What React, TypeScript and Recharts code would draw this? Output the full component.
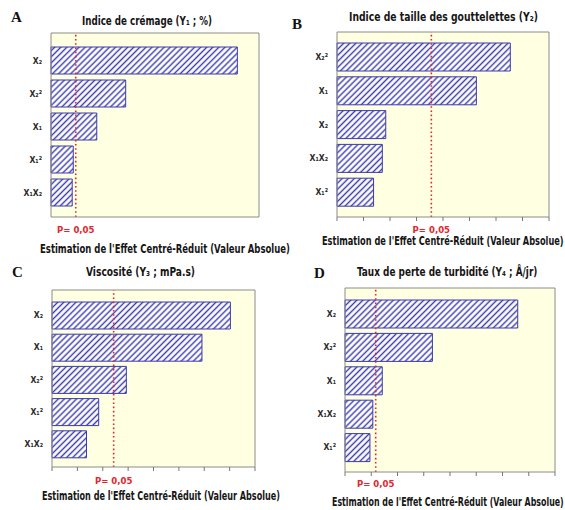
import { BarChart, Bar, XAxis, YAxis, CartesianGrid, ReferenceLine } from "recharts";

// Pareto charts of standardized effects, four responses
const termsA = ["X₂", "X₂²", "X₁", "X₁²", "X₁X₂"];
const effectsA = [8.96, 3.59, 2.2, 1.07, 1.02];
const critA = 1.19;

const termsB = ["X₂²", "X₁", "X₂", "X₁X₂", "X₁²"];
const effectsB = [6.54, 5.26, 1.84, 1.71, 1.38];
const critB = 3.56;

const termsC = ["X₂", "X₁", "X₂²", "X₁²", "X₁X₂"];
const effectsC = [7.03, 5.91, 2.93, 1.84, 1.36];
const critC = 2.43;

const termsD = ["X₂", "X₂²", "X₁", "X₁X₂", "X₁²"];
const effectsD = [6.58, 3.33, 1.42, 1.06, 0.95];
const critD = 1.17;

const gridTicks = [0, 1, 2, 3, 4, 5, 6, 7, 8];
const pLabel = "P= 0,05";
const xTitle = "Estimation de l'Effet Centré-Réduit (Valeur Absolue)";
const titleA = "Indice de crémage (Y₁ ; %)";
const titleB = "Indice de taille des gouttelettes (Y₂)";
const titleC = "Viscosité (Y₃ ; mPa.s)";
const titleD = "Taux de perte de turbidité (Y₄ ; Å/jr)";

const FONT = '"Liberation Sans Narrow", "DejaVu Sans Condensed", "Liberation Sans", sans-serif';
const BLUE = "#3a3aae";
const RED = "#e2262c";
const FRAME = "#8c8c8c";

type Box = { x: number; y: number; w: number; h: number };

type PanelProps = {
  id: string;
  terms: string[];
  effects: number[];
  crit: number;
  xMax: number;
  showTicks: boolean;
  box: Box;
  padTop: number;
  padBottom: number;
  barSize: number;
  pOffset: number;
};

function EffectPanel({ id, terms, effects, crit, xMax, showTicks, box, padTop, padBottom, barSize, pOffset }: PanelProps) {
  const data = terms.map((term, i) => ({ term, effect: effects[i] }));
  const hatch = 4.3;
  return (
    <div style={{ position: "absolute", left: box.x - 50, top: box.y - 2 }}>
      <BarChart
        width={box.w + 53}
        height={box.h + 27}
        data={data}
        layout="vertical"
        margin={{ top: 1, right: 2, bottom: 0, left: 0 }}
        barCategoryGap={0}
      >
        <defs>
          <pattern id={`hatch-${id}`} patternUnits="userSpaceOnUse" width={hatch} height={hatch} patternTransform="rotate(45)">
            <rect width={hatch} height={hatch} fill="#ffffff" />
            <line x1={hatch / 2} y1={0} x2={hatch / 2} y2={hatch} stroke={BLUE} strokeWidth={1.4} />
          </pattern>
        </defs>
        <CartesianGrid horizontal={false} vertical={false} fill="#ffffe1" />
        <XAxis
          type="number"
          domain={[0, xMax]}
          ticks={showTicks ? gridTicks : []}
          height={25}
          axisLine={{ stroke: FRAME }}
          tickLine={showTicks ? { stroke: "#777" } : false}
          tickSize={4}
          tickFormatter={() => ""}
        />
        <XAxis xAxisId="top" orientation="top" type="number" domain={[0, xMax]} height={1} tick={false} tickLine={false} axisLine={{ stroke: FRAME }} />
        <YAxis
          type="category"
          dataKey="term"
          width={50}
          padding={{ top: padTop, bottom: padBottom }}
          axisLine={{ stroke: FRAME }}
          tickLine={false}
          tickMargin={3}
          tick={{ fill: "#2a2a2a", fontSize: 8.5, fontFamily: FONT, fontWeight: 600 }}
        />
        <YAxis yAxisId="right" orientation="right" type="category" dataKey="term" width={1} tick={false} tickLine={false} axisLine={{ stroke: FRAME }} />
        <Bar dataKey="effect" fill={`url(#hatch-${id})`} stroke={BLUE} strokeWidth={1} barSize={barSize} isAnimationActive={false} />
        <ReferenceLine
          x={crit}
          stroke={RED}
          strokeWidth={1.6}
          strokeDasharray="1.6 2.6"
          label={{ value: pLabel, position: "bottom", offset: pOffset, fill: RED, fontSize: 9.5, fontWeight: 700, fontFamily: FONT }}
        />
      </BarChart>
    </div>
  );
}

// text squeezed horizontally to the width it has in the figure
function Squeezed({ x, y, size, natural, width, children }: { x: number; y: number; size: number; natural: number; width: number; children: string }) {
  return (
    <text
      transform={`translate(${x} ${y}) scale(${width / natural} 1)`}
      fontSize={size}
      fontFamily={FONT}
      fontWeight={700}
      fill="#151515"
    >
      {children}
    </text>
  );
}

export default function App() {
  const txt = { fontFamily: FONT, fontWeight: 700, fill: "#151515" } as const;
  const letter = { fontFamily: '"Liberation Serif", serif', fontWeight: 700, fontSize: 15, fill: "#111" } as const;
  return (
    <div style={{ position: "absolute", left: 0, top: 0, width: 565, height: 510, overflow: "hidden", background: "#fff" }}>
      <EffectPanel id="a" terms={termsA} effects={effectsA} crit={critA} xMax={10} showTicks={false}
        box={{ x: 51, y: 33, w: 208, h: 184 }} padTop={11} padBottom={8} barSize={27} pOffset={9} />
      <EffectPanel id="b" terms={termsB} effects={effectsB} crit={critB} xMax={8} showTicks={true}
        box={{ x: 337, y: 32, w: 212, h: 185 }} padTop={8} padBottom={8} barSize={28} pOffset={9} />
      <EffectPanel id="c" terms={termsC} effects={effectsC} crit={critC} xMax={8} showTicks={true}
        box={{ x: 52, y: 290, w: 203, h: 177 }} padTop={9} padBottom={7} barSize={27} pOffset={10} />
      <EffectPanel id="d" terms={termsD} effects={effectsD} crit={critD} xMax={8} showTicks={true}
        box={{ x: 345, y: 288, w: 210, h: 184 }} padTop={9} padBottom={8} barSize={28} pOffset={8} />
      <svg width={565} height={510} style={{ position: "absolute", left: 0, top: 0, pointerEvents: "none" }}>
        <text x={11} y={22} {...letter}>A</text>
        <text x={292} y={29} {...letter}>B</text>
        <text x={12} y={277} {...letter}>C</text>
        <text x={314} y={278} {...letter}>D</text>

        <text x={82} y={25} fontSize={13} textLength={130} lengthAdjust="spacingAndGlyphs" {...txt}>{titleA}</text>
        <Squeezed x={349} y={21} size={13} natural={238} width={188}>{titleB}</Squeezed>
        <text x={86} y={276} fontSize={13} textLength={109} lengthAdjust="spacingAndGlyphs" {...txt}>{titleC}</text>
        <Squeezed x={357} y={276} size={13} natural={236} width={180}>{titleD}</Squeezed>

        <text x={40} y={253} fontSize={12} textLength={250} lengthAdjust="spacingAndGlyphs" {...txt}>{xTitle}</text>
        <Squeezed x={322} y={245} size={12} natural={316} width={241}>{xTitle}</Squeezed>
        <text x={42} y={500} fontSize={12} textLength={238} lengthAdjust="spacingAndGlyphs" {...txt}>{xTitle}</text>
        <Squeezed x={332} y={506} size={12} natural={316} width={231}>{xTitle}</Squeezed>
      </svg>
    </div>
  );
}
